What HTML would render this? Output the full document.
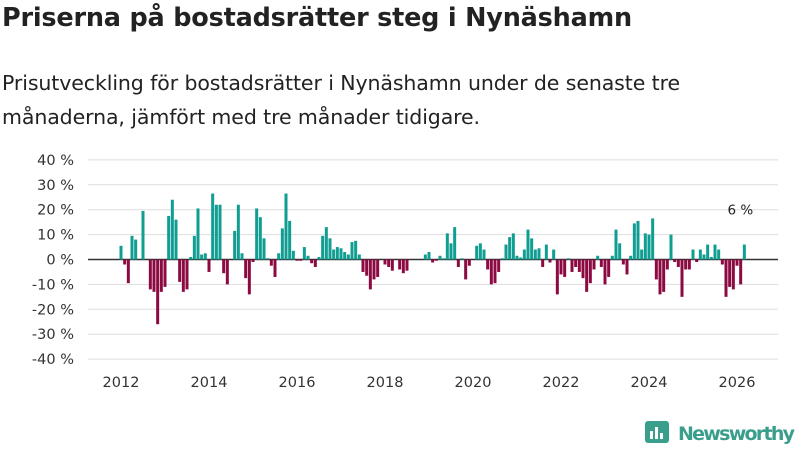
<!DOCTYPE html>
<html><head><meta charset="utf-8"><style>
body{margin:0;background:#fff;width:800px;height:450px;overflow:hidden;font-family:"DejaVu Sans",sans-serif;color:#222}
#title{position:absolute;left:2px;top:3px;font-size:25.5px;font-weight:bold;margin:0;letter-spacing:-0.2px}
#sub{position:absolute;left:2px;top:66px;font-size:20.5px;line-height:34px;width:740px;color:#222;letter-spacing:-0.1px}
svg{position:absolute;left:0;top:0}
</style></head><body>
<h1 id="title">Priserna på bostadsrätter steg i Nynäshamn</h1>
<div id="sub">Prisutveckling för bostadsrätter i Nynäshamn under de senaste tre<br>månaderna, jämfört med tre månader tidigare.</div>
<svg id="chart" width="800" height="450"></svg>
<script>
const values=[5.5,-2,-9.5,9.5,8,0,19.5,0,-12,-13,-26,-13,-11,17.5,24,16,-9,-13,-12,1,9.5,20.5,2,2.5,-5,26.5,22,22,-5.5,-10,0,11.5,22,2.5,-7.5,-14,-1,20.5,17,8.5,0.5,-2.5,-7,2.5,12.5,26.5,15.5,3.5,-0.5,-0.5,5,1.5,-1.5,-3,1,9.5,13,8.5,4,5,4.5,3,2,7,7.5,2,-5,-6.5,-12,-8,-7,0,-2,-3,-4.5,0,-4,-5.5,-4.5,0,0,0,0,2,3,-1.2,-0.5,1.5,0.5,10.5,6.5,13,-3,0.5,-8,-2.5,0,5.5,6.5,4,-4,-10,-9.5,-5,0.5,6,9,10.5,1.5,0.8,4,12,8.5,4,4.5,-3,6,-1.2,4,-14,-6,-7,0.5,-5,-3,-5,-7.5,-13,-9.5,-4,1.5,-3,-10,-7,1.5,12,6.5,-2,-6,1.5,14.5,15.5,4,10.5,10,16.5,-8,-14,-13,-4,10,-1,-3,-15,-4,-4,4,-1,4,2,6,1,6,4,-2,-15,-11,-12,-2.5,-10,6];
const yTicks=[40,30,20,10,0,-10,-20,-30,-40];
const xYears=[2012,2014,2016,2018,2020,2022,2024,2026];
const startYear=2012;
const NS="http://www.w3.org/2000/svg";
const svg=document.getElementById('chart');
const y=v=>259.5-v*2.49;
const x=m=>121+m*(616/168);
function mk(t,a){const e=document.createElementNS(NS,t);for(const k in a)e.setAttribute(k,a[k]);svg.appendChild(e);return e;}
yTicks.forEach(t=>{
 const g=mk('line',{x1:88,x2:778,y1:y(t),y2:y(t),stroke:t===0?'#333':'#ddd','stroke-width':t===0?1.5:1});
 
 
 const l=mk('text',{x:74,y:y(t)+5,'text-anchor':'end','font-size':14.5,fill:'#333'});
 l.textContent=t+' %';
 
 
});
xYears.forEach(yr=>{
 const l=mk('text',{x:x((yr-startYear)*12),y:387,'text-anchor':'middle','font-size':14.5,fill:'#333'});
 l.textContent=yr;
 
 
});
values.forEach((v,i)=>{
 if(v===0)return;
 const cx=x(i);
 const b=mk('rect',{x:cx-1.5,width:3,y:Math.min(y(v),y(0)),height:Math.abs(y(v)-y(0)),fill:v>0?'#109e92':'#8c0a42'});
 
 
});
const last=values.length-1;
const lab=mk('text',{x:x(last)-4,y:y(values[last])-30,'text-anchor':'middle','font-size':13.5,fill:'#222'});
lab.textContent=Math.round(values[last])+' %';


</script>
<svg width="800" height="450" style="pointer-events:none">
<rect x="645" y="421" width="24" height="22" rx="3" fill="#3a9e8c"/>
<rect x="650" y="431" width="3" height="8" fill="#fff"/><rect x="655" y="427" width="3" height="12" fill="#fff"/><rect x="660" y="433" width="3" height="6" fill="#fff"/>
<text x="678" y="440" font-size="19" font-weight="bold" fill="#3a9e8c" font-family="DejaVu Sans,sans-serif" textLength="117">Newsworthy</text>
</svg>
</body></html>
